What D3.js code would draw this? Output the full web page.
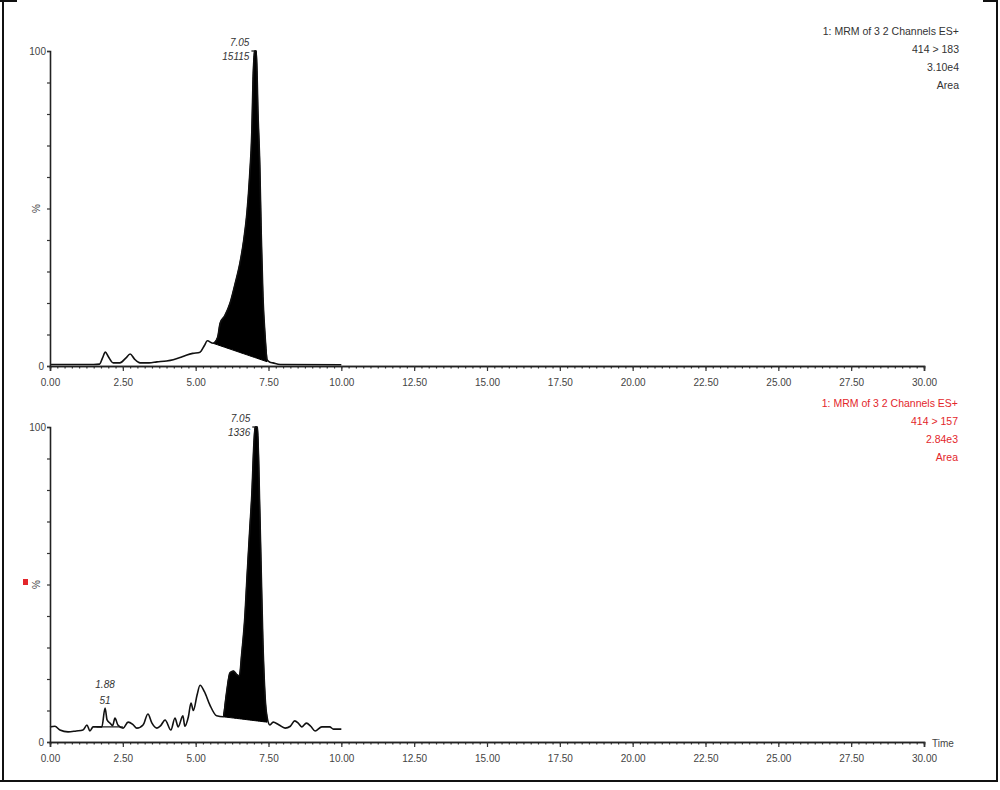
<!DOCTYPE html>
<html>
<head>
<meta charset="utf-8">
<script src="https://cdn.jsdelivr.net/npm/d3@7"></script>
<style>
  html, body { margin: 0; padding: 0; background: #fff; }
  svg { display: block; }
  text { font-family: "Liberation Sans", Arial, sans-serif; }
</style>
</head>
<body>
<svg id="chart" width="1000" height="790"></svg>
<script>
// ---------------- data ----------------
const timeTickLabels = ["0.00","2.50","5.00","7.50","10.00","12.50","15.00","17.50","20.00","22.50","25.00","27.50","30.00"];
const yAxisLabels = ["0", "%", "100"];

// Panel 1: MRM 414 > 183
const topTime = [0.0,1.5,1.7,1.8,1.9,2.0,2.17,2.4,2.6,2.75,2.9,3.09,3.4,3.67,4.0,4.23,4.5,4.7,4.9,5.15,5.3,5.4,5.6,5.75,5.84,6.0,6.18,6.35,6.52,6.65,6.76,6.85,6.93,6.97,7.02,7.08,7.14,7.2,7.25,7.31,7.38,7.45,7.55,7.65,7.9,10.0];
const topPct  = [0.5,0.5,0.6,2.5,4.4,3.0,1.0,1.0,2.5,3.8,2.2,1.0,1.0,1.3,1.6,2.0,2.8,3.5,4.0,4.4,6.5,8.0,7.2,9.0,13.6,16,20,26,32.7,40,48.6,60,75,91,100,100,80,64,42,22,10,2.0,1.2,1.0,0.5,0.4];
const topPeakRange = [5.6, 7.5];        // integrated region (min)
const topPeakBaseline = [7.2, 1.2];     // integration baseline (%) at start / end
const topPeakLabel = ["7.05", "15115"];
const topPeakTime = 7.05;
const topInfo = ["1: MRM of 3 2 Channels ES+", "414 > 183", "3.10e4", "Area"];

// Panel 2: MRM 414 > 157
const botTime = [0.0,0.17,0.34,0.62,0.9,1.13,1.27,1.37,1.48,1.78,1.89,1.96,2.06,2.15,2.23,2.33,2.51,2.68,2.85,2.98,3.2,3.36,3.5,3.67,3.8,3.95,4.15,4.29,4.4,4.56,4.63,4.75,4.84,4.92,5.05,5.15,5.3,5.49,5.72,5.95,6.05,6.18,6.3,6.4,6.5,6.58,6.69,6.76,6.86,6.93,7.0,7.04,7.12,7.2,7.31,7.4,7.45,7.55,7.66,7.85,8.07,8.25,8.4,8.52,8.64,8.8,8.95,9.1,9.33,9.6,9.73,10.0];
const botPct  = [4.8,5.0,3.8,3.2,3.5,3.8,5.4,3.5,4.8,4.8,10.8,7.0,6.0,5.2,7.6,5.4,4.4,6.3,5.5,4.4,5.5,8.9,6.0,4.4,5.2,7.0,3.8,7.6,4.8,8.3,5.0,8.0,12.4,10.0,15.0,18.0,16.0,11.7,8.3,8.0,15,22,22.5,21.5,21.0,28,40,52,68,79,95,100,100,74,31,12,8.0,5.4,6.3,5.5,4.4,5.0,6.7,6.0,4.8,6.0,5.0,3.5,4.8,4.8,4.1,4.1];
const botPeakRange = [5.95, 7.45];
const botPeakBaseline = [8.0, 6.3];
const botPeakLabel = ["7.05", "1336"];
const botPeakTime = 7.08;
const botSmallRange = [1.6, 2.5];       // small integrated peak baseline
const botSmallBaseline = [4.8, 4.8];
const botSmallLabel = ["1.88", "51"];
const botSmallTime = 1.89;
const botInfo = ["1: MRM of 3 2 Channels ES+", "414 > 157", "2.84e3", "Area"];

// ---------------- drawing ----------------
const svg = d3.select("#chart");
const x = d3.scaleLinear().domain([0, 30]).range([50, 924]);
const tickVals = timeTickLabels.map(Number);
const minorVals = d3.range(0, 30.001, 0.25);

function panel(cfg) {
  const y = d3.scaleLinear().domain([0, 100]).range([cfg.y0, cfg.y100]);
  const g = svg.append("g");
  const pts = cfg.time.map((t, i) => ({t, v: cfg.pct[i]}));

  // filled integrated peak
  function fillPeak(range, base) {
    const bl = d3.scaleLinear().domain(range).range(base);
    const inside = pts.filter(p => p.t >= range[0] && p.t <= range[1]);
    const area = d3.area().curve(d3.curveMonotoneX).x(p => x(p.t)).y0(p => y(bl(p.t))).y1(p => y(p.v));
    g.append("path").attr("d", area(inside)).attr("fill", "#000").attr("stroke", "#000").attr("stroke-width", 1);
  }
  fillPeak(cfg.peakRange, cfg.peakBase);

  // trace
  const line = d3.line().curve(d3.curveMonotoneX).x(p => x(p.t)).y(p => y(p.v));
  g.append("path").attr("d", line(pts)).attr("fill", "none").attr("stroke", "#111").attr("stroke-width", 1.6).attr("stroke-linejoin", "round");

  if (cfg.smallRange) {
    g.append("line")
      .attr("x1", x(cfg.smallRange[0])).attr("x2", x(cfg.smallRange[1]))
      .attr("y1", y(cfg.smallBase[0])).attr("y2", y(cfg.smallBase[1]))
      .attr("stroke", "#111").attr("stroke-width", 1.2);
  }

  // x axis
  const axMinor = d3.axisBottom(x).tickValues(minorVals).tickSize(2.5).tickFormat("");
  const axMajor = d3.axisBottom(x).tickValues(tickVals).tickSize(5).tickFormat((d, i) => timeTickLabels[i]);
  const gx1 = g.append("g").attr("transform", `translate(0,${cfg.y0})`).call(axMinor);
  const gx2 = g.append("g").attr("transform", `translate(0,${cfg.y0})`).call(axMajor);
  [gx1, gx2].forEach(a => {
    a.select(".domain").attr("stroke", "#222").attr("stroke-width", 1.6);
    a.selectAll(".tick line").attr("stroke", "#333").attr("stroke-width", 1.2);
  });
  gx2.selectAll(".tick text").attr("font-size", "10px").attr("fill", "#444").attr("y", 13).attr("dy", "0.71em")
    .attr("font-family", "Liberation Sans, Arial, sans-serif");

  // y axis
  const ay = d3.axisLeft(y).tickValues(d3.range(0, 101, 10)).tickSize(3).tickFormat("");
  const gy = g.append("g").attr("transform", `translate(${x(0)},0)`).call(ay);
  gy.select(".domain").attr("stroke", "#222").attr("stroke-width", 1.6);
  gy.selectAll(".tick line").attr("stroke", "#333").attr("stroke-width", 1.2);

  g.append("text").attr("x", 44).attr("y", y(0) + 4).attr("text-anchor", "end")
    .attr("font-size", "10px").attr("fill", "#444").text(yAxisLabels[0]);
  g.append("text").attr("x", 46).attr("y", y(100) + 4).attr("text-anchor", "end")
    .attr("font-size", "10px").attr("fill", "#444").text(yAxisLabels[2]);
  g.append("text").attr("transform", `translate(40,${y(50)}) rotate(-90)`).attr("text-anchor", "middle")
    .attr("font-size", "10px").attr("fill", "#444").text(yAxisLabels[1]);

  // peak labels
  const px = x(cfg.peakTime);
  g.append("text").attr("x", px - 6).attr("y", cfg.y100 - 5).attr("text-anchor", "end")
    .attr("font-size", "10px").attr("font-style", "italic").attr("fill", "#333").text(cfg.peakLabel[0]);
  g.append("text").attr("x", px - 6).attr("y", cfg.y100 + 9).attr("text-anchor", "end")
    .attr("font-size", "10px").attr("font-style", "italic").attr("fill", "#333").text(cfg.peakLabel[1]);
  g.append("line").attr("x1", px - 4).attr("x2", px + 1).attr("y1", cfg.y100).attr("y2", cfg.y100)
    .attr("stroke", "#111").attr("stroke-width", 1.2);

  if (cfg.smallLabel) {
    const sx = x(cfg.smallTime);
    const sy = y(d3.max(pts.filter(p => Math.abs(p.t - cfg.smallTime) < 0.05), p => p.v));
    g.append("text").attr("x", sx).attr("y", sy - 20).attr("text-anchor", "middle")
      .attr("font-size", "10px").attr("font-style", "italic").attr("fill", "#333").text(cfg.smallLabel[0]);
    g.append("text").attr("x", sx).attr("y", sy - 4).attr("text-anchor", "middle")
      .attr("font-size", "10px").attr("font-style", "italic").attr("fill", "#333").text(cfg.smallLabel[1]);
  }

  // info block
  cfg.info.forEach((s, i) => {
    g.append("text").attr("x", cfg.infoX).attr("y", cfg.infoY + i * 18).attr("text-anchor", "end")
      .attr("font-size", "10.5px").attr("fill", cfg.infoColor).text(s);
  });
  return g;
}

panel({ y0: 366, y100: 51, time: topTime, pct: topPct,
  peakRange: topPeakRange, peakBase: topPeakBaseline,
  peakLabel: topPeakLabel, peakTime: topPeakTime,
  info: topInfo, infoX: 959, infoY: 35, infoColor: "#333" });

panel({ y0: 742, y100: 427, time: botTime, pct: botPct,
  peakRange: botPeakRange, peakBase: botPeakBaseline,
  peakLabel: botPeakLabel, peakTime: botPeakTime,
  smallRange: botSmallRange, smallBase: botSmallBaseline,
  smallLabel: botSmallLabel, smallTime: botSmallTime,
  info: botInfo, infoX: 958, infoY: 407, infoColor: "#e3262b" });

// "Time" label
svg.append("text").attr("x", 932).attr("y", 747).attr("font-size", "10px").attr("fill", "#444").text("Time");

// red marker
svg.append("rect").attr("x", 23).attr("y", 579).attr("width", 5).attr("height", 6).attr("fill", "#e3262b");

// outer frame
const frame = svg.append("g").attr("stroke", "#111").attr("fill", "none");
frame.append("line").attr("x1", 3).attr("x2", 3).attr("y1", 0).attr("y2", 781).attr("stroke-width", 2);
frame.append("line").attr("x1", 0).attr("x2", 998).attr("y1", 781).attr("y2", 781).attr("stroke-width", 2);
frame.append("line").attr("x1", 997).attr("x2", 997).attr("y1", 0).attr("y2", 781).attr("stroke-width", 2);
frame.append("line").attr("x1", 0).attr("x2", 17).attr("y1", 1).attr("y2", 1).attr("stroke-width", 2);
frame.append("line").attr("x1", 983).attr("x2", 998).attr("y1", 1).attr("y2", 1).attr("stroke-width", 2);
</script>
</body>
</html>
